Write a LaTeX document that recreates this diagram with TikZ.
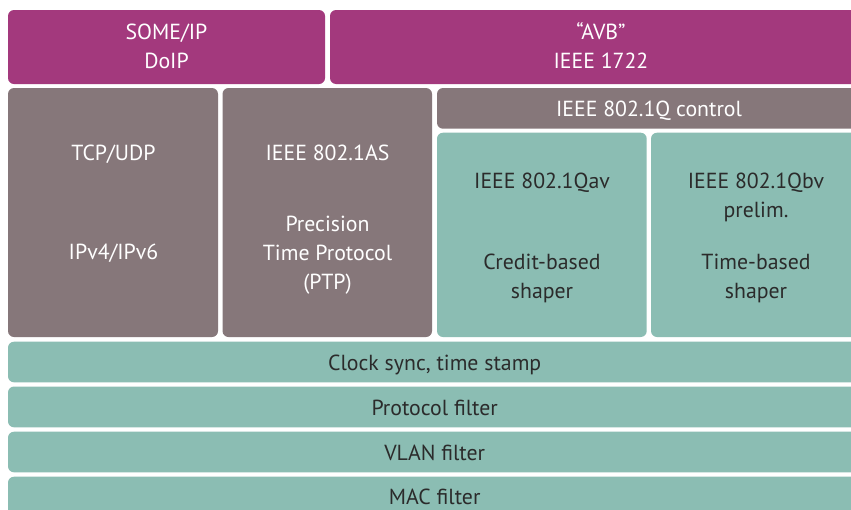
\documentclass[tikz,border=0pt]{standalone}
\usepackage{fontspec}
\setmainfont{PT Sans}
\definecolor{magen}{HTML}{A3397D}
\definecolor{greyb}{HTML}{86777A}
\definecolor{tealb}{HTML}{8BBDB3}
\definecolor{darkt}{HTML}{2B2B2B}
\tikzset{
  box/.style={rounded corners=6pt, inner sep=0pt, outer sep=0pt, draw=none},
  mbox/.style={box, fill=magen},
  gbox/.style={box, fill=greyb},
  tbox/.style={box, fill=tealb},
  wlab/.style={anchor=base, inner sep=0pt, text=white, font=\fontsize{21.8}{26}\selectfont},
  dlab/.style={anchor=base, inner sep=0pt, text=darkt, font=\fontsize{21.8}{26}\selectfont},
}
\begin{document}
\begin{tikzpicture}[x=1pt,y=-1pt]
\useasboundingbox (0,0) rectangle (851,509);
\fill[white] (0,0) rectangle (851,509);
% boxes
\node[mbox, minimum width=317pt, minimum height=74pt] (some) at (166.5,47) {};
\node[mbox, minimum width=531pt, minimum height=74pt] (avb) at (595.5,47) {};
\node[gbox, minimum width=210pt, minimum height=249pt] (tcp) at (113,212.5) {};
\node[gbox, minimum width=209.5pt, minimum height=249pt] (ptp) at (327.25,212.5) {};
\node[gbox, minimum width=424pt, minimum height=40.7pt] (ctrl) at (649,108.35) {};
\node[tbox, minimum width=209.7pt, minimum height=204.3pt] (qav) at (541.85,234.85) {};
\node[tbox, minimum width=210pt, minimum height=204.3pt] (qbv) at (756,234.85) {};
\node[tbox, minimum width=853pt, minimum height=40.6pt] (clk) at (434.5,362) {};
\node[tbox, minimum width=853pt, minimum height=40.8pt] (prot) at (434.5,406.9) {};
\node[tbox, minimum width=853pt, minimum height=40.6pt] (vlan) at (434.5,452) {};
\node[tbox, minimum width=853pt, minimum height=40.6pt] (mac) at (434.5,497) {};
% labels
\node[wlab] (t1) at (166.5,39) {SOME/IP};
\node[wlab] (t2) at (166.5,68) {DoIP};
\node[wlab] (t3) at (601,39) {“AVB”};
\node[wlab] (t4) at (601,68) {IEEE 1722};
\node[wlab] (t5) at (113.5,160.5) {TCP/UDP};
\node[wlab] (t6) at (113.5,259.5) {IPv4/IPv6};
\node[wlab] (t7) at (327.5,160.5) {IEEE 802.1AS};
\node[wlab] (t8) at (327.5,231.5) {Precision};
\node[wlab] (t9) at (327.5,260.5) {Time Protocol};
\node[wlab] (t10) at (327.5,289.5) {(PTP)};
\node[wlab] (t11) at (649,116) {IEEE 802.1Q control};
\node[dlab] (t12) at (542,188.5) {IEEE 802.1Qav};
\node[dlab] (t13) at (542,269.5) {Credit-based};
\node[dlab] (t14) at (542,298.5) {shaper};
\node[dlab] (t15) at (756,188.5) {IEEE 802.1Qbv};
\node[dlab] (t16) at (756,217.5) {prelim.};
\node[dlab] (t17) at (756,269.5) {Time-based};
\node[dlab] (t18) at (756,298.5) {shaper};
\node[dlab] (t19) at (434.7,370) {Clock sync, time stamp};
\node[dlab] (t20) at (434.7,415) {Protocol filter};
\node[dlab] (t21) at (434.7,460) {VLAN filter};
\node[dlab] (t22) at (434.7,504.5) {MAC filter};
\end{tikzpicture}
\end{document}
